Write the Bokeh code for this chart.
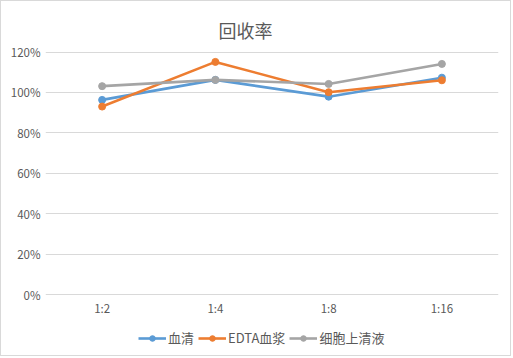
from bokeh.plotting import figure
from bokeh.models import FactorRange, Range1d, FixedTicker, NumeralTickFormatter, Legend, LegendItem, Title
from bokeh.embed import file_html
from bokeh.resources import INLINE

categories = ["1:2", "1:4", "1:8", "1:16"]
serum = [0.963, 1.062, 0.979, 1.073]
edta_plasma = [0.930, 1.151, 1.001, 1.060]
cell_supernatant = [1.031, 1.062, 1.042, 1.141]
series_names = ["血清", "EDTA血浆", "细胞上清液"]
y_ticks = [0, 0.2, 0.4, 0.6, 0.8, 1.0, 1.2]

colors = ["#5B9BD5", "#ED7D31", "#A5A5A5"]
TXT = "#595959"
FONT = "Noto Sans CJK SC"

# layout (pixels); 1px border around the chart
W, H = 511, 356
LEFT, RIGHT, TOP, BOTTOM = 44, 14, 47, 5
frame_h = H - TOP - BOTTOM
px_per_unit = 242.5 / 1.2
y_end = 1.2 + 3.5 / px_per_unit
y_start = y_end - frame_h / px_per_unit

p = figure(width=W, height=H, output_backend="svg", toolbar_location=None,
           x_range=FactorRange(*categories), y_range=Range1d(y_start, y_end),
           min_border_left=LEFT, min_border_right=RIGHT, min_border_top=TOP, min_border_bottom=BOTTOM)
p.styles = {"border": "1px solid #D9D9D9"}

p.title = Title(text="回收率", align="left", offset=173, text_font=FONT, text_font_size="18px",
                text_font_style="normal", text_color=TXT, standoff=11)
p.outline_line_color = None
p.background_fill_color = "white"
p.border_fill_color = "white"

p.xgrid.grid_line_color = None
p.ygrid.grid_line_color = "#D9D9D9"
p.ygrid.grid_line_width = 1
p.ygrid.ticker = FixedTicker(ticks=y_ticks)

p.yaxis.ticker = FixedTicker(ticks=y_ticks)
p.yaxis.formatter = NumeralTickFormatter(format="0%")
for ax in (p.xaxis, p.yaxis):
    ax.axis_line_color = None
    ax.major_tick_line_color = None
    ax.minor_tick_line_color = None
    ax.major_tick_out = 0
    ax.major_tick_in = 0
    ax.minor_tick_out = 0
    ax.major_label_text_color = TXT
    ax.major_label_text_font = FONT
    ax.major_label_text_font_size = "11.5px"
p.xaxis.major_label_standoff = -53
p.yaxis.major_label_standoff = 5

items = []
for name, vals, c in zip(series_names, [serum, edta_plasma, cell_supernatant], colors):
    r1 = p.line(categories, vals, line_color=c, line_width=2.6)
    r2 = p.scatter(categories, vals, marker="circle", size=7, fill_color=c, line_color=c)
    items.append(LegendItem(label=name, renderers=[r1, r2]))

legend = Legend(items=items, orientation="horizontal", location=(93, 5),
                label_text_font=FONT, label_text_font_size="13px", label_text_color=TXT,
                glyph_width=28, glyph_height=14, label_height=14, label_standoff=2, spacing=4,
                border_line_color=None, background_fill_alpha=0, padding=0, margin=0)
p.add_layout(legend, "center")

open("out.html", "w").write(file_html(p, INLINE))
